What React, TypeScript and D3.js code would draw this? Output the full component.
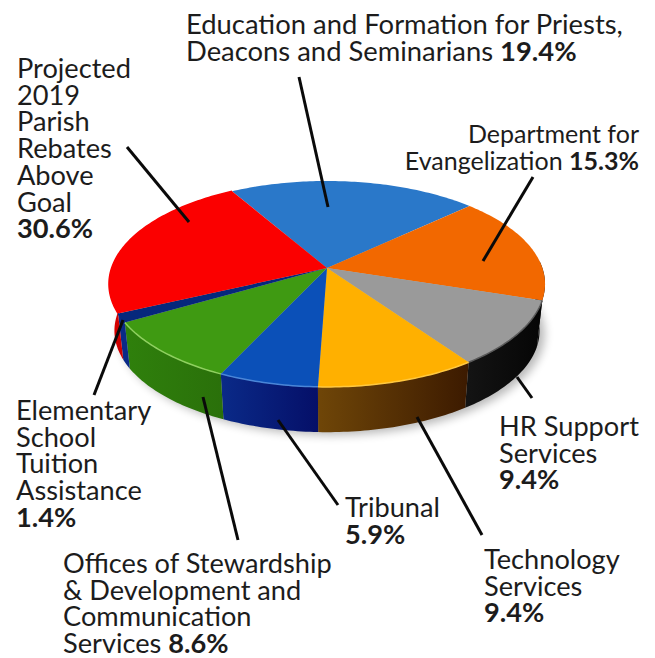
import * as d3 from "d3";

const width = 655;
const height = 658;

const categories = [
  "Education and Formation",
  "Department for Evangelization",
  "HR Support Services",
  "Technology Services",
  "Tribunal",
  "Offices of Stewardship",
  "Elementary School Tuition",
  "Parish Rebates",
];
// printed percentages, as in the labels
const percents = ["19.4%", "15.3%", "9.4%", "9.4%", "5.9%", "8.6%", "1.4%", "30.6%"];
// slice sizes as the picture actually draws them (the red one is much smaller than its label says)
const drawnShares = [21.4, 16.9, 10.3, 10.3, 6.4, 9.7, 1.4, 23.6];
const topColors = ["#2a78c9", "#f26800", "#9a9a9a", "#ffb000", "#0b50b8", "#3f9a12", "#06287c", "#fb0000"];
const sideLeft = ["#1c5090", "#0c0c0c", "#141414", "#6f4608", "#0a2a88", "#2f800c", "#0a2a88", "#e00000"];
const sideRight = ["#1c5090", "#0c0c0c", "#050505", "#3c1a00", "#050f68", "#2a700a", "#0a2a88", "#c80000"];
const rimColors = ["none", "none", "#5a5a5a", "#ffc840", "#4a86d8", "#8fd060", "#06287c", "#fb0000"];

// label lines per slice; the percent is appended in bold to the last line, or on its own line when that is empty
const labelLines = [
  ["Education and Formation for Priests,", "Deacons and Seminarians "],
  ["Department for", "Evangelization "],
  ["HR Support", "Services", ""],
  ["Technology", "Services", ""],
  ["Tribunal", ""],
  ["Offices of Stewardship", "& Development and", "Communication", "Services "],
  ["Elementary", "School", "Tuition", "Assistance", ""],
  ["Projected", "2019", "Parish", "Rebates", "Above", "Goal", ""],
];
const labelX = [186, 639, 499, 484, 345, 63, 16, 17];
const labelY = [34, 143, 436, 569, 517, 573, 420, 78];
const labelAnchor = ["start", "end", "start", "start", "start", "start", "start", "start"];
const labelSize = [27.4, 25, 27.2, 27.2, 27.2, 27.2, 27.2, 27.2];
const lineStep = 26.7;

// leader lines
const leaders = [
  [299, 77, 328, 207],
  [533, 177, 483, 261],
  [517, 377, 532, 398],
  [417, 417, 482, 535],
  [278, 420, 338, 505],
  [203, 397, 238, 540],
  [123, 320, 94, 395],
  [127, 147, 189, 222],
];

// perspective projection of the pie disc, apex of the pie at (cx, cy)
const cx = 327;
const cy = 268;
const a = 215.4;
const b = 100.5;
const k = -0.155;

function project(angle: number, sx = 1, sy = 1, dy = 0): [number, number] {
  const u = Math.sin(angle);
  const v = -Math.cos(angle);
  const w = 1 + k * v;
  return [cx + (sx * a * u) / w, cy + dy + (sy * b * v) / w];
}

const line = d3.line();
const toRad = (deg: number) => (deg * Math.PI) / 180;

function arcAngles(start: number, end: number) {
  const n = Math.max(2, Math.ceil((end - start) / toRad(1)));
  return d3.range(n + 1).map((i) => start + ((end - start) * i) / n);
}

const pie = d3
  .pie<number>()
  .sort(null)
  .startAngle(toRad(-30))
  .endAngle(toRad(330));
const slices = pie(drawnShares);

function topPath(start: number, end: number) {
  const pts = arcAngles(start, end).map((t) => project(t));
  return line([[cx, cy], ...pts]) + "Z";
}

const baseSx = 0.975;
const baseSy = 0.985;
const depth = 47;

function sidePath(start: number, end: number) {
  const angles = arcAngles(start, end);
  const upper = angles.map((t) => project(t));
  const lower = angles.map((t) => project(t, baseSx, baseSy, depth)).reverse();
  return line([...upper, ...lower]) + "Z";
}

// only the front of the wall shows
const frontStart = toRad(86);
const frontEnd = toRad(276);

const wholeBase = line(arcAngles(0, Math.PI * 2).map((t) => project(t, baseSx, baseSy, depth))) + "Z";

export default function App() {
  return (
    <svg
      width={width}
      height={height}
      viewBox={`0 0 ${width} ${height}`}
      style={{ position: "absolute", left: 0, top: 0, background: "#fff" }}
      fontFamily="Lato, sans-serif"
      fill="#1c1c1c"
    >
      <defs>
        <filter id="soft" x="-20%" y="-20%" width="140%" height="140%">
          <feGaussianBlur stdDeviation="5" />
        </filter>
        {slices.map((s, i) => (
          <linearGradient id={`side${i}`} key={categories[i]}>
            <stop offset="0" stopColor={sideLeft[i]} />
            <stop offset="1" stopColor={sideRight[i]} />
          </linearGradient>
        ))}
      </defs>

      <path d={wholeBase} fill="#000" opacity={0.28} filter="url(#soft)" transform="translate(5,3)" />

      {slices.map((s, i) => {
        const start = Math.max(s.startAngle, frontStart);
        const end = Math.min(s.endAngle, frontEnd);
        if (end <= start) return null;
        return <path key={categories[i]} d={sidePath(start, end)} fill={`url(#side${i})`} />;
      })}

      {slices.map((s, i) => (
        <path key={categories[i]} d={topPath(s.startAngle, s.endAngle)} fill={topColors[i]} />
      ))}

      {slices.map((s, i) =>
        rimColors[i] === "none" ? null : (
          <path
            key={categories[i]}
            d={line(arcAngles(s.startAngle, s.endAngle).map((t) => project(t))) as string}
            fill="none"
            stroke={rimColors[i]}
            strokeWidth={1.5}
          />
        )
      )}

      <g stroke="#0a0a0a" strokeWidth={3}>
        {leaders.map((l, i) => (
          <line key={i} x1={l[0]} y1={l[1]} x2={l[2]} y2={l[3]} />
        ))}
      </g>

      {labelLines.map((lines, i) => (
        <text key={categories[i]} textAnchor={labelAnchor[i]} fontSize={labelSize[i]}>
          {lines.map((t, j) => (
            <tspan key={j} x={labelX[i]} y={labelY[i] + j * lineStep}>
              {t}
              {j === lines.length - 1 ? <tspan fontWeight={700}>{percents[i]}</tspan> : null}
            </tspan>
          ))}
        </text>
      ))}
    </svg>
  );
}
